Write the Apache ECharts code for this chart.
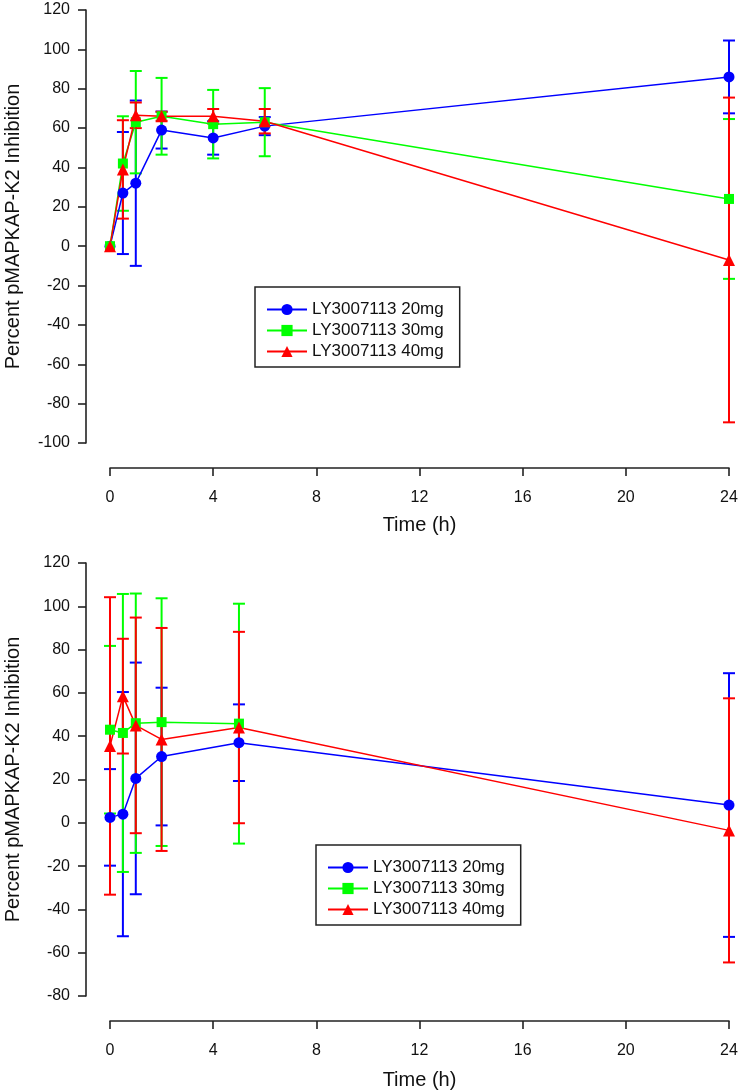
<!DOCTYPE html>
<html>
<head>
<meta charset="utf-8">
<script src="https://cdn.jsdelivr.net/npm/echarts@6/dist/echarts.min.js"></script>
<style>
html,body{margin:0;padding:0;background:#fff;}
#chart{width:742px;height:1091px;}
</style>
</head>
<body>
<div id="chart"></div>
<script>
// ---- Data ----
const seriesNames = ['LY3007113 20mg', 'LY3007113 30mg', 'LY3007113 40mg'];
const xTicks = [0, 4, 8, 12, 16, 20, 24];

// Top panel
const timesTop = [0, 0.5, 1, 2, 4, 6, 24];
const top20Mean = [0, 27, 32, 59, 55, 61, 86];
const top20Sd   = [0, 31, 42, 9.4, 8.5, 4.6, 18.5];
const top30Mean = [0, 42, 63, 66, 62, 63, 24];
const top30Sd   = [0, 24, 26, 19.5, 17.4, 17.3, 40.6];
const top40Mean = [0, 39, 66.5, 66, 66, 63.5, -7];
const top40Sd   = [0, 25, 6.5, 2.3, 3.7, 6.2, 82.5];

// Bottom panel
const timesBottom   = [0, 0.5, 1, 2, 5, 24];
const timesBottom30 = [0, 0.5, 1, 2, 5];
const bot20Mean = [2.5, 4, 20.5, 30.6, 37, 8.2];
const bot20Sd   = [22.3, 56.4, 53.5, 31.8, 17.7, 60.9];
const bot30Mean = [43, 41.5, 46, 46.5, 45.8];
const bot30Sd   = [38.7, 64.2, 59.9, 57.2, 55.4];
const bot40Mean = [35.5, 58.5, 45, 38.5, 44, -3.5];
const bot40Sd   = [68.7, 26.5, 49.8, 51.5, 44.2, 61];

// ---- Styling ----
const colors = ['#0000FF', '#00FF00', '#FF0000'];
const symbols = ['circle', 'rect', 'triangle'];
const symbolSizes = [11, 10, 12];
const FONT = '"Liberation Sans", Arial, Helvetica, sans-serif';
const AX = '#222';

function pts(t, m) { return t.map((x, i) => [x, m[i]]); }
function errs(t, m, s) {
  const out = [];
  t.forEach((x, i) => { if (s[i] > 0) out.push([x, m[i] - s[i], m[i] + s[i]]); });
  return out;
}
function errSeries(gi, idx, data) {
  const color = colors[idx];
  return {
    type: 'custom', name: 'err' + gi + '_' + idx,
    xAxisIndex: gi, yAxisIndex: gi,
    data: data, encode: { x: 0, y: [1, 2] },
    silent: true,
    renderItem: function (params, api) {
      const x = api.value(0), lo = api.value(1), hi = api.value(2);
      const a = api.coord([x, lo]), b = api.coord([x, hi]);
      const w = 6;
      const st = { stroke: color, lineWidth: 2 };
      return {
        type: 'group', children: [
          { type: 'line', shape: { x1: a[0], y1: a[1], x2: b[0], y2: b[1] }, style: st },
          { type: 'line', shape: { x1: a[0] - w, y1: a[1], x2: a[0] + w, y2: a[1] }, style: st },
          { type: 'line', shape: { x1: b[0] - w, y1: b[1], x2: b[0] + w, y2: b[1] }, style: st }
        ]
      };
    }
  };
}
function lineSeries(gi, idx, data) {
  return {
    type: 'line', name: seriesNames[idx],
    xAxisIndex: gi, yAxisIndex: gi,
    data: data,
    symbol: symbols[idx], symbolSize: symbolSizes[idx],
    showAllSymbol: true,
    itemStyle: { color: colors[idx] },
    lineStyle: { color: colors[idx], width: 1.5 },
    emphasis: { disabled: true },
    animation: false
  };
}
function xAxis(gi, gap) {
  return {
    type: 'value', gridIndex: gi, min: 0, max: 24, interval: 4,
    position: 'bottom', offset: 25,
    axisLine: { show: true, onZero: false, lineStyle: { color: AX, width: 1.6 } },
    axisTick: { show: true, length: 8, lineStyle: { color: AX, width: 1.6 } },
    splitLine: { show: false },
    axisLabel: { fontSize: 16, margin: 22, color: '#111', fontFamily: FONT,
      formatter: v => xTicks.includes(v) ? String(v) : '' },
    name: 'Time (h)', nameLocation: 'middle', nameGap: gap,
    nameTextStyle: { fontSize: 20, color: '#111', fontFamily: FONT }
  };
}
function yAxis(gi, min, max) {
  return {
    type: 'value', gridIndex: gi, min: min, max: max, interval: 20,
    position: 'left', offset: 24,
    axisLine: { show: true, onZero: false, lineStyle: { color: AX, width: 1.6 } },
    axisTick: { show: true, length: 8, lineStyle: { color: AX, width: 1.6 } },
    splitLine: { show: false },
    axisLabel: { fontSize: 16, margin: 16, color: '#111', fontFamily: FONT },
    name: 'Percent pMAPKAP-K2 Inhibition', nameLocation: 'middle', nameGap: 63,
    nameTextStyle: { fontSize: 20, color: '#111', fontFamily: FONT }
  };
}
function legend(left, top) {
  return {
    left: left, top: top, orient: 'vertical',
    padding: [14, 16, 7, 11],
    itemGap: 4, itemWidth: 40, itemHeight: 14,
    borderColor: AX, borderWidth: 1.5, backgroundColor: '#fff',
    selectedMode: false,
    textStyle: { fontSize: 17, color: '#111', fontFamily: FONT, lineHeight: 17 },
    data: seriesNames
  };
}

const chart = echarts.init(document.getElementById('chart'), null, { renderer: 'canvas' });
chart.setOption({
  animation: false,
  backgroundColor: '#fff',
  textStyle: { fontFamily: FONT },
  grid: [
    { left: 110, right: 13, top: 10, height: 433, containLabel: false, outerBoundsMode: 'none' },
    { left: 110, right: 13, top: 563, height: 433, containLabel: false, outerBoundsMode: 'none' }
  ],
  xAxis: [xAxis(0, 47), xAxis(1, 49)],
  yAxis: [yAxis(0, -100, 120), yAxis(1, -80, 120)],
  legend: [legend(255, 287), legend(316, 845)],
  series: [
    errSeries(0, 0, errs(timesTop, top20Mean, top20Sd)),
    lineSeries(0, 0, pts(timesTop, top20Mean)),
    errSeries(0, 1, errs(timesTop, top30Mean, top30Sd)),
    lineSeries(0, 1, pts(timesTop, top30Mean)),
    errSeries(0, 2, errs(timesTop, top40Mean, top40Sd)),
    lineSeries(0, 2, pts(timesTop, top40Mean)),
    errSeries(1, 0, errs(timesBottom, bot20Mean, bot20Sd)),
    lineSeries(1, 0, pts(timesBottom, bot20Mean)),
    errSeries(1, 1, errs(timesBottom30, bot30Mean, bot30Sd)),
    lineSeries(1, 1, pts(timesBottom30, bot30Mean)),
    errSeries(1, 2, errs(timesBottom, bot40Mean, bot40Sd)),
    lineSeries(1, 2, pts(timesBottom, bot40Mean))
  ]
});
</script>
</body>
</html>
